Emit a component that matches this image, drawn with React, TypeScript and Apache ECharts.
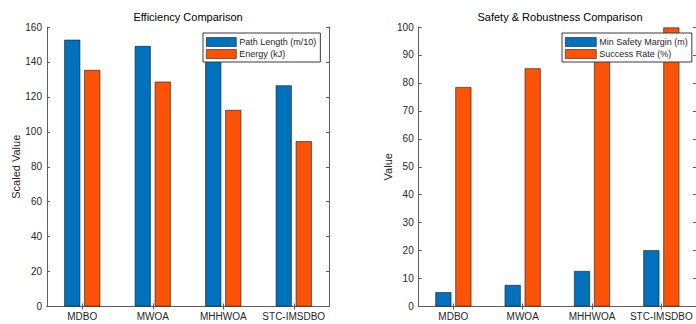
import React, { useEffect, useRef } from "react";
import * as echarts from "echarts";

const categories = ["MDBO", "MWOA", "MHHWOA", "STC-IMSDBO"];
const pathLength = [152.7, 149.1, 141, 126.6];
const energy = [135.4, 128.7, 112.5, 94.6];
const safetyMargin = [5.1, 7.7, 12.7, 20.1];
const successRate = [78.5, 85.2, 91.5, 99.8];

const leftTitle = "Efficiency Comparison";
const rightTitle = "Safety & Robustness Comparison";
const leftYName = "Scaled Value";
const rightYName = "Value";
const leftNames = ["Path Length (m/10)", "Energy (kJ)"];
const rightNames = ["Min Safety Margin (m)", "Success Rate (%)"];

const BLUE = "#0072BD";
const ORANGE = "#FC5308";
const FONT = "'Liberation Sans', Arial, Helvetica, sans-serif";
const AXIS = "#5e5e5e";
const TEXT = "#262626";

export default function App() {
  const ref = useRef<HTMLDivElement>(null);

  useEffect(() => {
    if (!ref.current) return;
    const chart = echarts.init(ref.current, undefined, { renderer: "svg" });

    const xAxes = (gi: number) => [
      {
        type: "category",
        gridIndex: gi,
        data: categories,
        position: "bottom",
        axisLine: { show: true, lineStyle: { color: AXIS, width: 1 } },
        axisTick: { show: true, inside: true, alignWithLabel: true, interval: 0, length: 3, lineStyle: { color: AXIS } },
        axisLabel: { interval: 0, fontSize: 10, color: TEXT, margin: 5, fontFamily: FONT },
        splitLine: { show: false },
      },
      {
        type: "category",
        gridIndex: gi,
        data: categories,
        position: "top",
        axisLine: { show: true, lineStyle: { color: AXIS, width: 1 } },
        axisTick: { show: true, inside: true, alignWithLabel: true, interval: 0, length: 3, lineStyle: { color: AXIS } },
        axisLabel: { show: false },
        splitLine: { show: false },
      },
    ];

    const yAxes = (gi: number, max: number, interval: number, name: string) => [
      {
        type: "value",
        gridIndex: gi,
        min: 0,
        max,
        interval,
        position: "left",
        name,
        nameLocation: "middle",
        nameGap: 25,
        nameTextStyle: { fontSize: 11, color: TEXT, fontFamily: FONT },
        axisLine: { show: true, lineStyle: { color: AXIS, width: 1 } },
        axisTick: { show: true, inside: true, length: 3, lineStyle: { color: AXIS } },
        axisLabel: { fontSize: 10, color: TEXT, margin: 5, fontFamily: FONT },
        splitLine: { show: false },
      },
      {
        type: "value",
        gridIndex: gi,
        min: 0,
        max,
        interval,
        position: "right",
        axisLine: { show: true, lineStyle: { color: AXIS, width: 1 } },
        axisTick: { show: true, inside: true, length: 3, lineStyle: { color: AXIS } },
        axisLabel: { show: false },
        splitLine: { show: false },
      },
    ];

    const bar = (name: string, data: number[], color: string, xi: number, yi: number) => ({
      type: "bar",
      name,
      data,
      xAxisIndex: xi,
      yAxisIndex: yi,
      barWidth: 16,
      barGap: "25%",
      itemStyle: { color, borderColor: "#1a1a1a", borderWidth: 0.6 },
    });

    const legendBase = {
      orient: "vertical",
      top: 33,
      padding: [3, 4, 2, 3],
      itemGap: 0,
      itemHeight: 9,
      icon: "rect",
      backgroundColor: "#ffffff",
      borderColor: "#3a3a3a",
      borderWidth: 1,
      borderRadius: 0,
      itemStyle: { borderColor: "#1a1a1a", borderWidth: 0.6 },
      textStyle: { fontSize: 9, color: TEXT, fontFamily: FONT, lineHeight: 12, padding: [0, 0, 0, -2] },
      selectedMode: false,
    };

    chart.setOption({
      animation: false,
      backgroundColor: "#ffffff",
      textStyle: { fontFamily: FONT },
      title: [
        {
          text: leftTitle,
          left: 188,
          top: 11,
          textAlign: "center",
          padding: 0,
          textStyle: { fontSize: 11, fontWeight: "normal", color: "#000", fontFamily: FONT },
        },
        {
          text: rightTitle,
          left: 560,
          top: 11,
          textAlign: "center",
          padding: 0,
          textStyle: { fontSize: 11, fontWeight: "normal", color: "#000", fontFamily: FONT },
        },
      ],
      legend: [
        { ...legendBase, left: 203, itemWidth: 30, data: leftNames },
        { ...legendBase, left: 562, itemWidth: 31, data: rightNames },
      ],
      grid: [
        { left: 47, top: 27, width: 282, height: 279.5, containLabel: false },
        { left: 418.7, top: 27, width: 283, height: 279.5, containLabel: false },
      ],
      xAxis: [...xAxes(0), ...xAxes(1)],
      yAxis: [
        ...yAxes(0, 160, 20, leftYName),
        ...yAxes(1, 100, 10, rightYName),
      ],
      series: [
        bar(leftNames[0], pathLength, BLUE, 0, 0),
        bar(leftNames[1], energy, ORANGE, 0, 0),
        bar(rightNames[0], safetyMargin, BLUE, 2, 2),
        bar(rightNames[1], successRate, ORANGE, 2, 2),
      ],
    });

    return () => chart.dispose();
  }, []);

  return (
    <div
      ref={ref}
      style={{ position: "fixed", left: 0, top: 0, width: 696, height: 324, background: "#fff" }}
    />
  );
}
